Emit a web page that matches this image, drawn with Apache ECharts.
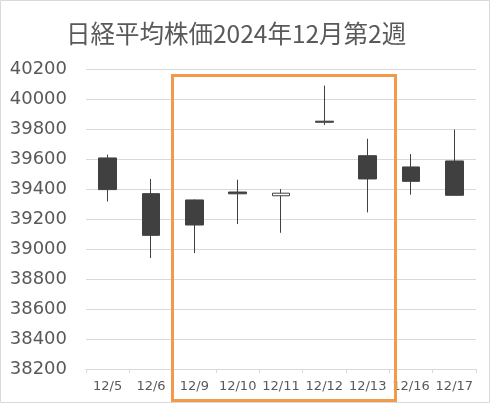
<!DOCTYPE html>
<html>
<head>
<meta charset="utf-8">
<script src="https://cdn.jsdelivr.net/npm/echarts@6/dist/echarts.min.js"></script>
<style>html,body{margin:0;padding:0;background:#fff;}#c{width:491px;height:404px;}</style>
</head>
<body>
<div id="c"></div>
<script>
const titleText = '日経平均株価2024年12月第2週';
const categories = ['12/5','12/6','12/9','12/10','12/11','12/12','12/13','12/16','12/17'];
const openValues  = [39607, 39369, 39327, 39380, 39355, 39852, 39622, 39547, 39587];
const closeValues = [39396, 39091, 39160, 39368, 39372, 39845, 39467, 39451, 39358];
const lowValues   = [39317, 38940, 38973, 39166, 39108, 39827, 39244, 39362, 39358];
const highValues  = [39629, 39467, 39330, 39462, 39400, 40089, 39735, 39633, 39796];
const yMin = 38200, yMax = 40200, yStep = 200;

const candleData = categories.map((c, i) => [openValues[i], closeValues[i], lowValues[i], highValues[i]]);

const chart = echarts.init(document.getElementById('c'), null, {renderer: 'canvas'});
chart.setOption({
  animation: false,
  backgroundColor: '#ffffff',
  title: {
    text: titleText,
    left: 61,
    top: 16,
    textStyle: {fontFamily: 'Noto Sans CJK JP', fontSize: 24.5, fontWeight: 'normal', color: '#595959'}
  },
  grid: {left: 86, right: 15, top: 69, bottom: 35, containLabel: false},
  xAxis: {
    type: 'category',
    data: categories,
    boundaryGap: true,
    axisLine: {show: true, lineStyle: {color: '#d9d9d9', width: 1}},
    axisTick: {show: true, length: 4, lineStyle: {color: '#d9d9d9'}},
    axisLabel: {color: '#595959', fontSize: 13, fontFamily: 'DejaVu Sans', margin: 11, interval: 0},
    splitLine: {show: false}
  },
  yAxis: {
    type: 'value',
    min: yMin, max: yMax, interval: yStep,
    axisLine: {show: false},
    axisTick: {show: false},
    axisLabel: {color: '#595959', fontSize: 18, fontFamily: 'DejaVu Sans', margin: 19, formatter: v => String(v)},
    splitLine: {lineStyle: {color: '#d9d9d9', width: 1}}
  },
  series: [{
    type: 'candlestick',
    data: candleData,
    barWidth: 18,
    itemStyle: {
      color: '#ffffff',
      color0: '#404040',
      borderColor: '#404040',
      borderColor0: '#404040',
      borderWidth: 1
    }
  }],
  graphic: [
    {type: 'rect', shape: {x: 0.5, y: 0.5, width: 489, height: 402}, style: {fill: 'none', stroke: '#d9d9d9', lineWidth: 1}, z: 100},
    {type: 'rect', shape: {x: 172.5, y: 75.5, width: 223, height: 325}, style: {fill: 'none', stroke: '#f39a4a', lineWidth: 3}, z: 100}
  ]
});
</script>
</body>
</html>
